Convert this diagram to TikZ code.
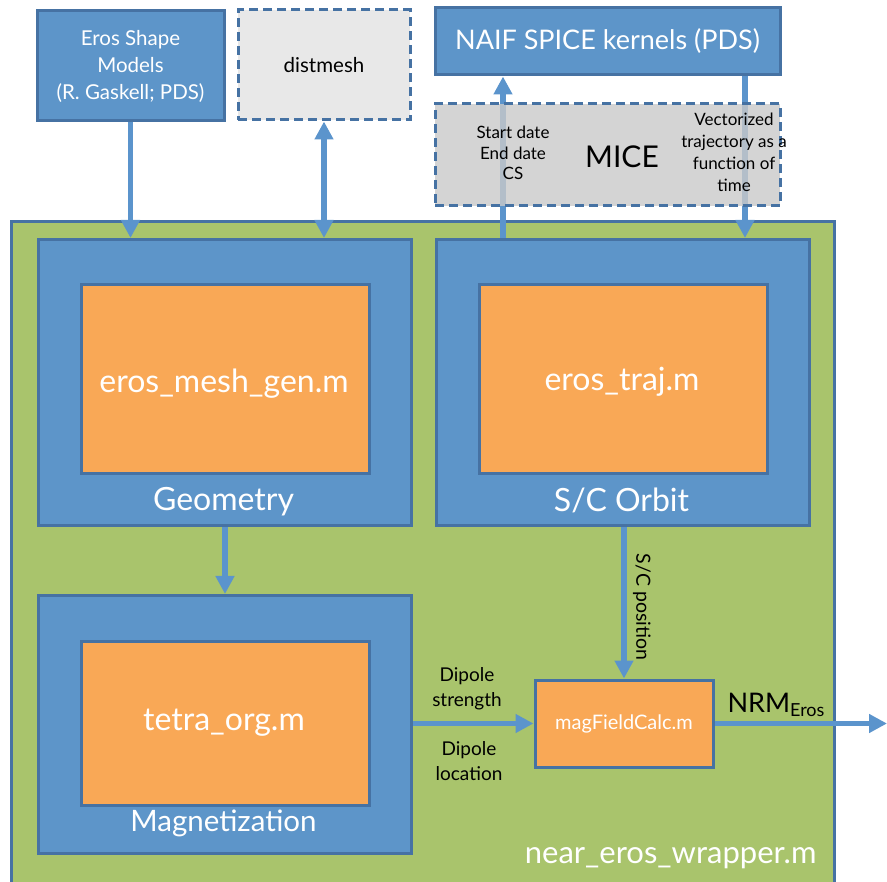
\documentclass[tikz,border=0pt]{standalone}
\usepackage{fontspec}
\setmainfont{Lato}
\usetikzlibrary{arrows.meta,calc}
\definecolor{bfill}{HTML}{5D95C9}
\definecolor{bline}{HTML}{4672A3}
\definecolor{ofill}{HTML}{F9A856}
\definecolor{gfill}{HTML}{A9C46C}
\definecolor{dfill}{HTML}{E8E8E8}
\definecolor{mfill}{HTML}{C9C9C9}
\definecolor{afill}{HTML}{5B94CC}
\tikzset{
  bluebox/.style={draw=bline,fill=bfill,line width=3pt,rectangle,inner sep=0pt,text=white,align=center},
  orangebox/.style={draw=bline,fill=ofill,line width=3pt,rectangle,inner sep=0pt,text=white,align=center},
  dashbox/.style={draw=bline,line width=3pt,dash pattern=on 9pt off 5pt,rectangle,inner sep=0pt,align=center},
  arr/.style={draw=afill,line width=5.5pt,-{Triangle[length=18pt,width=18pt]}},
  darr/.style={draw=afill,line width=5.5pt,{Triangle[length=18pt,width=18pt]}-{Triangle[length=18pt,width=18pt]}},
  lbl/.style={align=center,text=black},
  big/.style={font=\fontsize{32}{34}\selectfont},
  bigtext/.style={text=white,big},
}
\begin{document}
\begin{tikzpicture}[x=1pt,y=-1pt]
\useasboundingbox (0,0) rectangle (887,882);
\clip (0,0) rectangle (887,882);
% wrapper
\node[bluebox,fill=gfill,minimum width=823pt,minimum height=690pt,anchor=north west] (wrap) at (10,220) {};
\node[text=white,font=\fontsize{31}{33}\selectfont,anchor=east] (wraplbl) at (820,858) {near\_eros\_wrapper.m};
% top boxes
\node[bluebox,minimum width=187pt,minimum height=110pt,font=\fontsize{20.5}{27}\selectfont] (eros) at (130.5,66) {Eros Shape\\Models\\(R. Gaskell; PDS)};
\node[dashbox,fill=dfill,minimum width=172pt,minimum height=110pt,font=\fontsize{20.5}{22}\selectfont] (dist) at (324,65) {distmesh};
\node[bluebox,minimum width=345pt,minimum height=67pt,font=\fontsize{27}{30}\selectfont] (naif) at (607.5,41.5) {NAIF SPICE kernels (PDS)};
% inner boxes
\node[bluebox,minimum width=373pt,minimum height=286pt,anchor=north west] (geo) at (37,238) {};
\node[orangebox,minimum width=288pt,minimum height=189pt,anchor=north west] (geoin) at (80,283) {};
\node[bigtext] (geotxt) at (224,384) {eros\_mesh\_gen.m};
\node[bigtext] (geolbl) at (223.5,502) {Geometry};
\node[bluebox,minimum width=373pt,minimum height=286pt,anchor=north west] (orb) at (435,238) {};
\node[orangebox,minimum width=288pt,minimum height=189pt,anchor=north west] (orbin) at (478,283) {};
\node[bigtext] (orbtxt) at (622,382) {eros\_traj.m};
\node[bigtext] (orblbl) at (621.5,500) {S/C Orbit};
\node[bluebox,minimum width=373pt,minimum height=258pt,anchor=north west] (mag) at (37,594) {};
\node[orangebox,minimum width=288pt,minimum height=164pt,anchor=north west] (magin) at (80,640) {};
\node[bigtext] (magtxt) at (224,723) {tetra\_org.m};
\node[text=white,font=\fontsize{29.5}{32}\selectfont] (maglbl) at (223.5,823) {Magnetization};
\node[orangebox,minimum width=178pt,minimum height=87pt,font=\fontsize{20}{22}\selectfont] (mfc) at (624,723.5) {magFieldCalc.m};
% arrows to NAIF (under MICE)
\draw[arr] ([xshift=68pt]orb.north west) -- ([xshift=68pt]orb.north west |- naif.south);
\draw[arr] ([xshift=310pt]orb.north west |- naif.south) -- ([xshift=310pt]orb.north west);
% MICE
\node[dashbox,fill=mfill,fill opacity=0.8,text opacity=1,minimum width=345pt,minimum height=102pt] (mice) at (607.5,155) {};
\node[lbl,font=\fontsize{30}{32}\selectfont] (micelbl) at (622,157) {MICE};
\node[lbl,font=\fontsize{17}{20.5}\selectfont] (sd) at (513,153) {Start date\\End date\\CS};
\node[lbl,font=\fontsize{17}{22}\selectfont] (vt) at (734,152) {Vectorized\\trajectory as a\\function of\\time};
% other arrows
\draw[arr] (eros.south) -- (eros.south |- geo.north);
\draw[darr] (dist.south) -- (dist.south |- geo.north);
\draw[arr] (geo.south) -- (mag.north);
\draw[arr] (orb.south -| mfc.north) -- (mfc.north);
\draw[arr] (mag.east |- mfc.west) -- (mfc.west);
\coordinate (out) at (887,723.5);
\draw[arr] (mfc.east) -- (out);
% labels
\node[lbl,rotate=-90,font=\fontsize{19.5}{21}\selectfont] (scpos) at (642,607) {S/C position};
\node[lbl,font=\fontsize{19}{25}\selectfont] (ds) at (467,689) {Dipole\\strength};
\node[lbl,font=\fontsize{19}{25}\selectfont] (dl) at (469,761) {Dipole\\location};
\node[lbl,font=\fontsize{27}{28}\selectfont,anchor=west] (nrm) at (724,705) {NRM\textsubscript{\fontsize{18}{19}\selectfont Eros}};
\end{tikzpicture}
\end{document}
